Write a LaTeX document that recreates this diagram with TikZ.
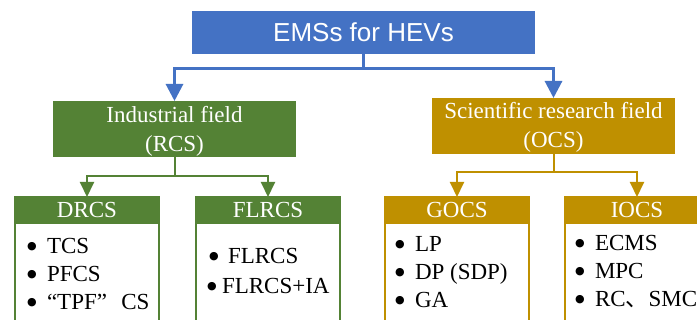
\documentclass[tikz,border=0pt]{standalone}
\usepackage{fontspec}
\setmainfont{Liberation Serif}
\newfontfamily\arialfont{Liberation Sans}
\newfontfamily\cjkfont{Noto Sans CJK SC}
\newfontfamily\symfont{DejaVu Sans}
\usetikzlibrary{arrows.meta}
\definecolor{emsblue}{HTML}{4472C4}
\definecolor{rcsgreen}{HTML}{548235}
\definecolor{ocsgold}{HTML}{BF9000}
% list bullet: a small filled circle in a box of the usual bullet width
\newcommand\itembullet{\makebox[8pt][c]{\hspace{4pt}\raisebox{4pt}{\symfont\fontsize{11}{11}\selectfont ●}}}

\begin{document}
\begin{tikzpicture}[x=1pt,y=-1pt,
  every node/.style={inner sep=0pt, outer sep=0pt},
  fieldbox/.style={rectangle, fill=#1, minimum width=243pt, minimum height=56pt},
  fieldtext/.style={anchor=base, text=white, font=\fontsize{23}{29}\selectfont},
  groupbody/.style={rectangle, draw=#1, line width=2pt, minimum width=144pt, minimum height=160pt, anchor=north},
  grouphead/.style={rectangle, fill=#1, minimum width=144pt, minimum height=27pt, anchor=north, text=white, font=\fontsize{23}{27}\selectfont},
  itemlist/.style={anchor=base west, font=\fontsize{23}{28}\selectfont},
  link/.style={draw=#1, line width=2pt, -{Triangle[length=15pt,width=14pt]}},
]
\useasboundingbox (0,0) rectangle (697,320);
\fill[white] (0,0) rectangle (697,320);

% top level
\node[rectangle, fill=emsblue, minimum width=343pt, minimum height=43pt, text=white,
      font=\arialfont\fontsize{26}{30}\selectfont] (ems) at (363.5,32.5) {EMSs for HEVs};

% the two fields
\node[fieldbox=rcsgreen] (ind) at (174.5,129) {};
\node[fieldtext] (indA) at (174.5,122.5) {Industrial field};
\node[fieldtext] (indB) at (174.5,151.5) {(RCS)};

\node[fieldbox=ocsgold] (sci) at (553.5,126) {};
\node[fieldtext] (sciA) at (553.5,119) {Scientific research field};
\node[fieldtext] (sciB) at (553.5,148) {(OCS)};

% strategy groups
\node[groupbody=rcsgreen] (drcs) at (87,197) {};
\node[grouphead=rcsgreen] (drcshead) at (87,197) {DRCS};
\node[groupbody=rcsgreen] (flrcs) at (268,197) {};
\node[grouphead=rcsgreen] (flrcshead) at (268,197) {FLRCS};
\node[groupbody=ocsgold] (gocs) at (457,197) {};
\node[grouphead=ocsgold] (gocshead) at (457,197) {GOCS};
\node[groupbody=ocsgold] (iocs) at (637,197) {};
\node[grouphead=ocsgold] (iocshead) at (637,197) {IOCS};

% item lists
\node[itemlist] (drcsitems) at (26,254) {\begin{tabular}[t]{@{}l@{\hspace{13pt}}l@{}}
  \itembullet & TCS\\ \itembullet & PFCS\\ \itembullet & “TPF”\hspace{0.62em}CS\end{tabular}};
\node[itemlist, font=\fontsize{23}{30}\selectfont] (flrcsitems) at (206,264) {\begin{tabular}[t]{@{}l@{}}
  \hspace{2pt}\itembullet\hspace{12pt}FLRCS\\ \itembullet\hspace{8pt}FLRCS+IA\end{tabular}};
\node[itemlist] (gocsitems) at (394,252) {\begin{tabular}[t]{@{}l@{\hspace{13pt}}l@{}}
  \itembullet & LP\\ \itembullet & DP (SDP)\\ \itembullet & GA\end{tabular}};
\node[itemlist] (iocsitems) at (574,251) {\begin{tabular}[t]{@{}l@{\hspace{13pt}}l@{}}
  \itembullet & ECMS\\ \itembullet & MPC\\ \itembullet & RC{\cjkfont 、}SMC\end{tabular}};

% connectors
\draw[link=emsblue, line width=3pt, -{Triangle[length=17pt,width=17pt]}] (ems.south) -- ++(0,15) -| (ind.north);
\draw[link=emsblue, line width=3pt, -{Triangle[length=17pt,width=17pt]}] (ems.south) -- ++(0,15) -| (sci.north);
\draw[link=rcsgreen] (ind.south) -- ++(0,19) -| (drcshead.north);
\draw[link=rcsgreen] (ind.south) -- ++(0,19) -| (flrcshead.north);
\draw[link=ocsgold] (sci.south) -- ++(0,18) -| (gocshead.north);
\draw[link=ocsgold] (sci.south) -- ++(0,18) -| (iocshead.north);
\end{tikzpicture}
\end{document}
